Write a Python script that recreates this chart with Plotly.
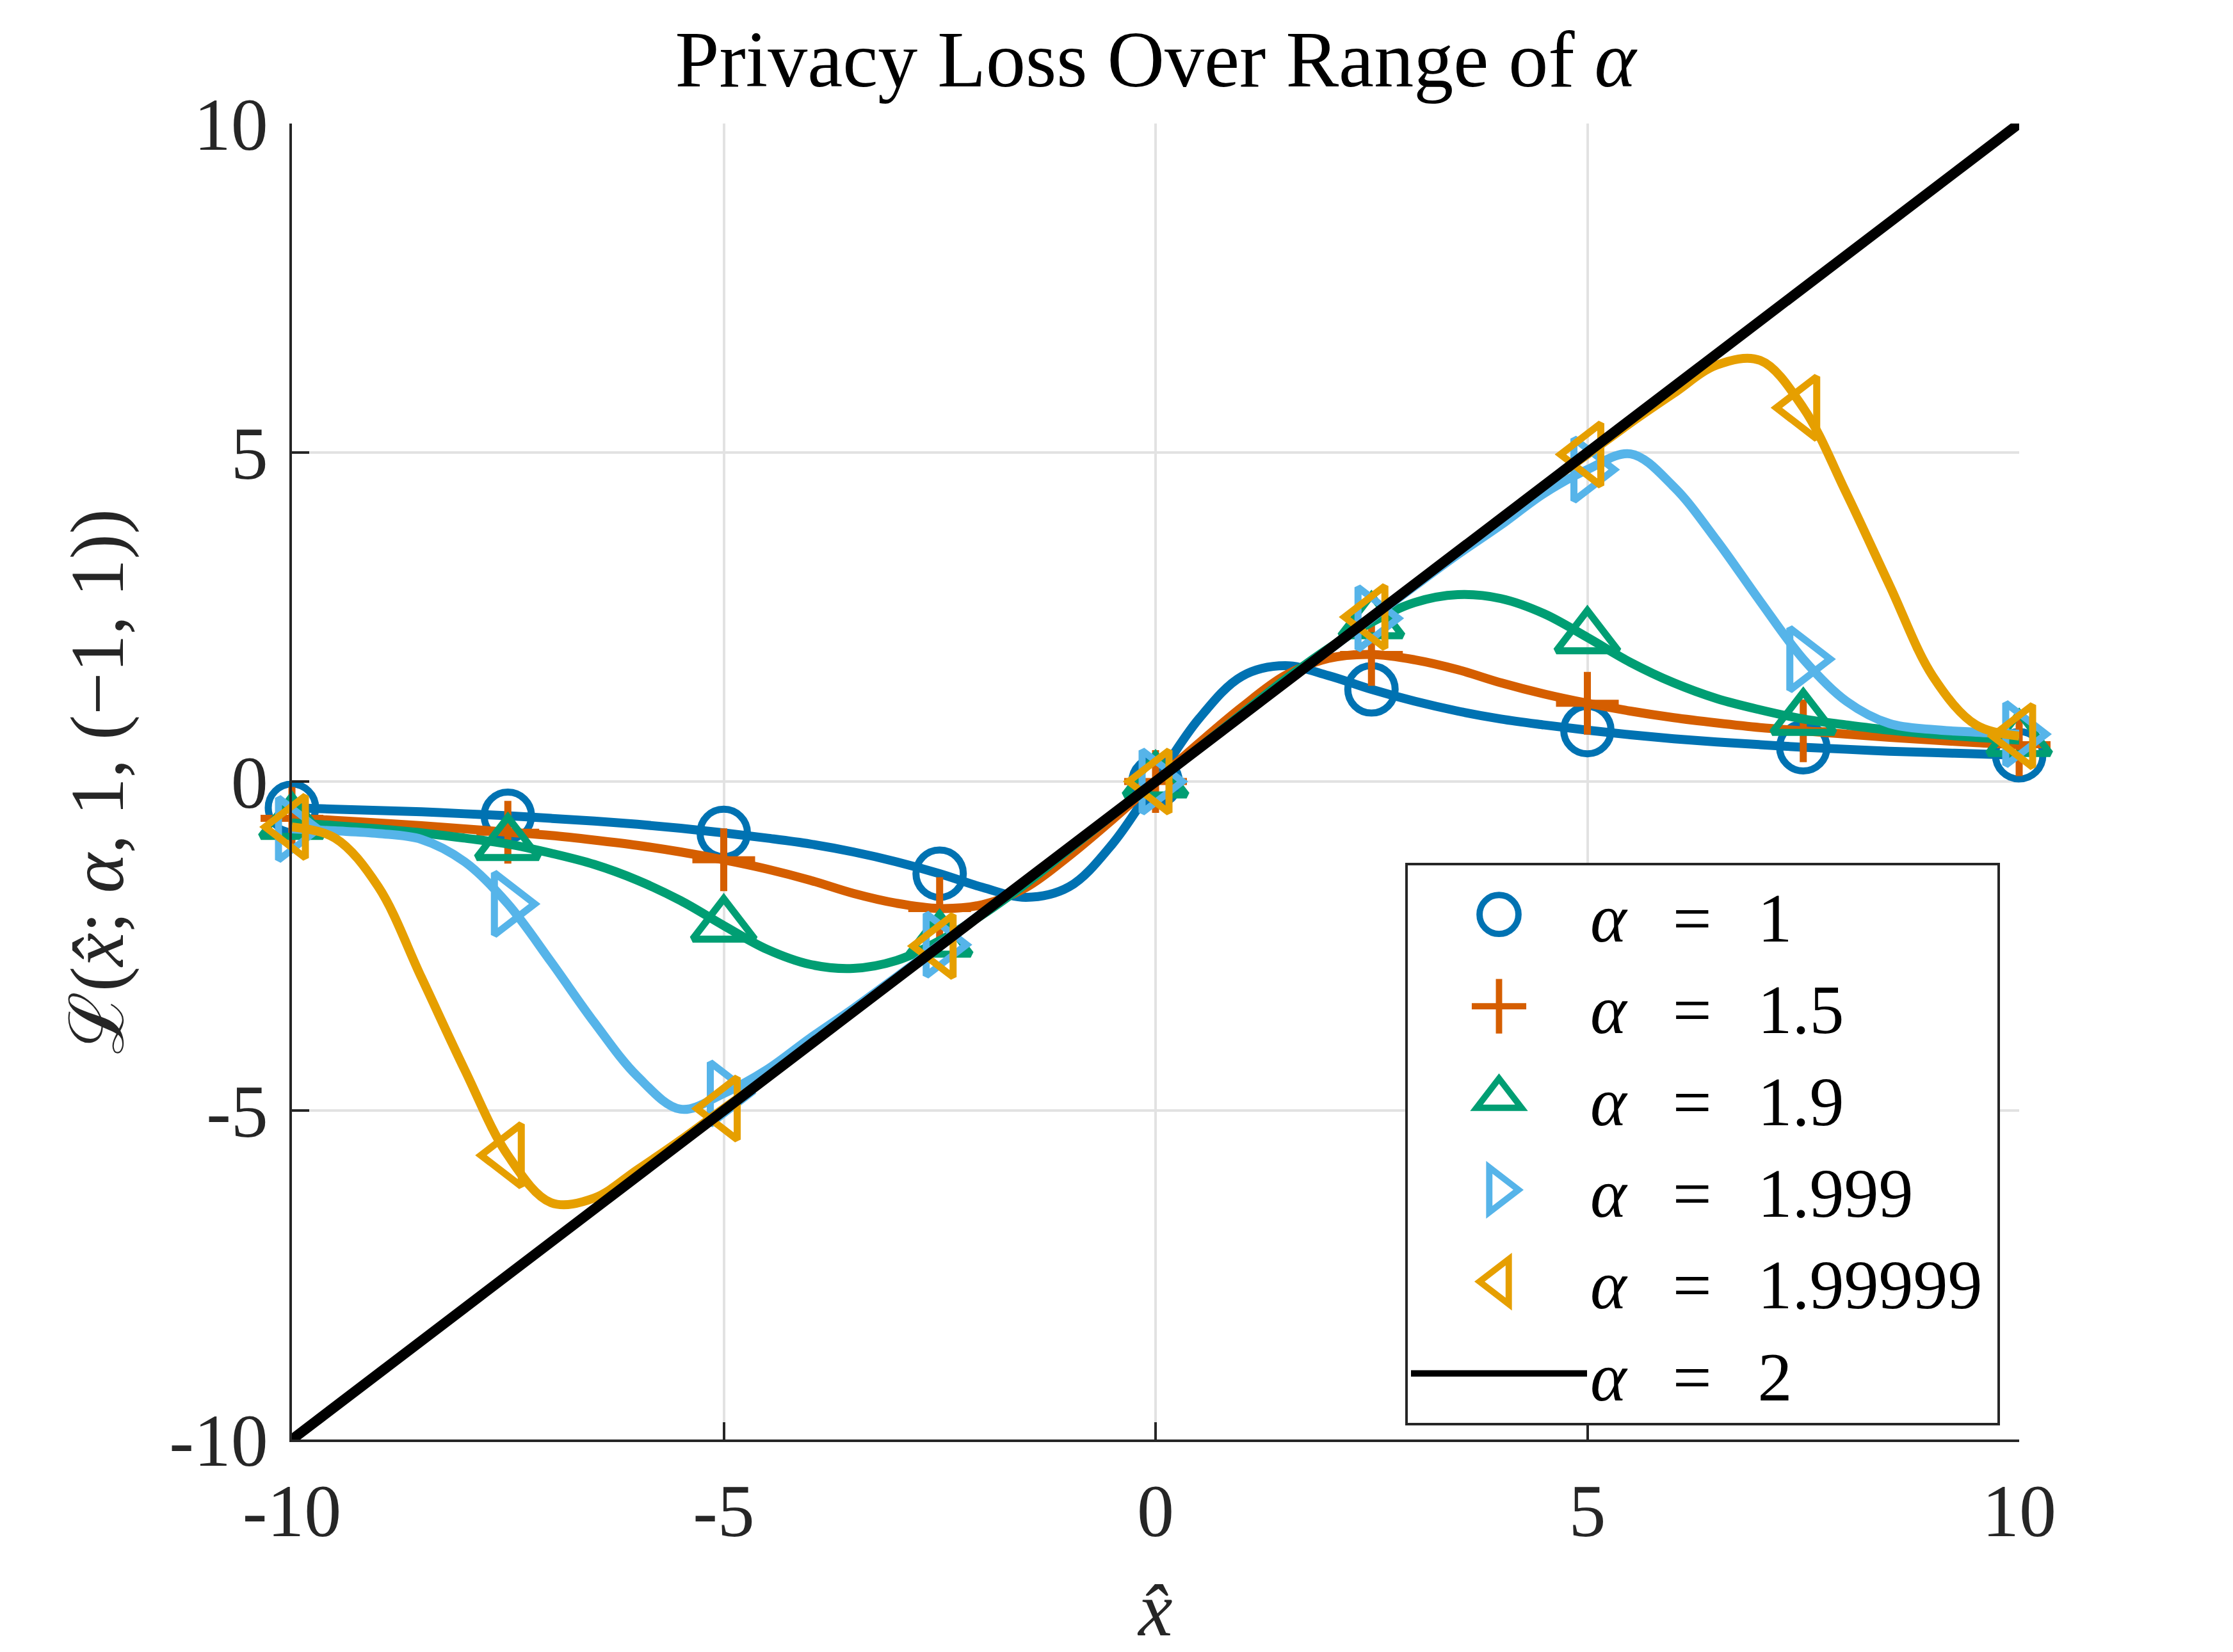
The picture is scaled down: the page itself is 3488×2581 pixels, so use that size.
import plotly.graph_objects as go

# x grid for the smooth curves (read at 0.5 steps)
x_curve = [-10.0, -9.5, -9.0, -8.5, -8.0, -7.5, -7.0, -6.5, -6.0, -5.5, -5.0,
           -4.5, -4.0, -3.5, -3.0, -2.5, -2.0, -1.5, -1.0, -0.5, 0.0,
           0.5, 1.0, 1.5, 2.0, 2.5, 3.0, 3.5, 4.0, 4.5, 5.0,
           5.5, 6.0, 6.5, 7.0, 7.5, 8.0, 8.5, 9.0, 9.5, 10.0]

# alpha = 1
y_a1 = [-0.40, -0.42, -0.44, -0.46, -0.49, -0.52, -0.56, -0.60, -0.65, -0.71, -0.78,
        -0.86, -0.95, -1.07, -1.22, -1.40, -1.61, -1.76, -1.60, -0.95, 0.00,
        0.95, 1.60, 1.76, 1.61, 1.40, 1.22, 1.07, 0.95, 0.86, 0.78,
        0.71, 0.65, 0.60, 0.56, 0.52, 0.49, 0.46, 0.44, 0.42, 0.40]
# alpha = 1.5
y_a15 = [-0.56, -0.59, -0.63, -0.67, -0.72, -0.77, -0.82, -0.89, -0.97, -1.07, -1.19,
         -1.33, -1.50, -1.70, -1.85, -1.93, -1.87, -1.61, -1.13, -0.58, 0.00,
         0.58, 1.13, 1.61, 1.87, 1.93, 1.85, 1.70, 1.50, 1.33, 1.19,
         1.07, 0.97, 0.89, 0.82, 0.77, 0.72, 0.67, 0.63, 0.59, 0.56]
# alpha = 1.9
y_a19 = [-0.63, -0.67, -0.72, -0.78, -0.86, -0.95, -1.09, -1.26, -1.50, -1.81, -2.19,
         -2.55, -2.78, -2.84, -2.72, -2.42, -2.02, -1.55, -1.03, -0.51, 0.00,
         0.51, 1.03, 1.55, 2.02, 2.42, 2.72, 2.84, 2.78, 2.55, 2.19,
         1.81, 1.50, 1.26, 1.09, 0.95, 0.86, 0.78, 0.72, 0.67, 0.63]
# alpha = 1.999
y_a1999 = [-0.72, -0.75, -0.79, -0.88, -1.22, -1.86, -2.74, -3.66, -4.48, -4.98, -4.74,
           -4.38, -3.90, -3.45, -2.97, -2.48, -1.99, -1.50, -1.00, -0.50, 0.00,
           0.50, 1.00, 1.50, 1.99, 2.48, 2.97, 3.45, 3.90, 4.38, 4.74,
           4.98, 4.48, 3.66, 2.74, 1.86, 1.22, 0.88, 0.79, 0.75, 0.72]
# alpha = 1.99999
y_a199999 = [-0.69, -0.86, -1.60, -2.98, -4.38, -5.68, -6.40, -6.33, -5.90, -5.45, -4.97,
             -4.50, -4.00, -3.50, -3.00, -2.50, -2.00, -1.50, -1.00, -0.50, 0.00,
             0.50, 1.00, 1.50, 2.00, 2.50, 3.00, 3.50, 4.00, 4.50, 4.97,
             5.45, 5.90, 6.33, 6.40, 5.68, 4.38, 2.98, 1.60, 0.86, 0.69]
# alpha = 2 (straight line)
x_a2 = [-10.0, 10.0]
y_a2 = [-10.0, 10.0]

marker_step = 5  # markers every 2.5 in x

SP = "\u2002\u2006"
END = "\u2006"
alpha_labels = ["1", "1.5", "1.9", "1.999", "1.99999"]
series_names = ["<i>α</i>" + SP + "=" + SP + a + END for a in alpha_labels]
series_y = [y_a1, y_a15, y_a19, y_a1999, y_a199999]
colors = ["#0072B2", "#D55E00", "#009E73", "#56B4E9", "#E69F00"]
symbols = ["circle-open", "cross-thin-open", "triangle-up-open", "triangle-right-open", "triangle-left-open"]
msizes = [74, 70, 84, 84, 84]

x_ticks = [-10, -5, 0, 5, 10]
x_ticktext = ["-10", "-5", "0", "5", "10"]
y_ticks = [-10, -5, 0, 5, 10]
y_ticktext = ["-10", "-5", "0", "5", "10"]

FONT = "Liberation Serif, DejaVu Serif, serif"
AX = "#262626"

fig = go.Figure()
for name, ys, c, sym, ms in zip(series_names, series_y, colors, symbols, msizes):
    fig.add_trace(go.Scatter(x=x_curve, y=ys, mode="lines", line=dict(color=c, width=14, shape="spline"),
                             showlegend=False, hoverinfo="skip", cliponaxis=False))
    fig.add_trace(go.Scatter(x=x_curve[::marker_step], y=ys[::marker_step], mode="markers", name=name,
                             marker=dict(symbol=sym, size=ms, color=c, line=dict(color=c, width=11)),
                             cliponaxis=False))
fig.add_trace(go.Scatter(x=x_a2, y=y_a2, mode="lines", name="<i>α</i>" + SP + "=" + SP + "2" + END,
                         line=dict(color="black", width=16), cliponaxis=False))

axis_common = dict(
    showline=True, linewidth=4, linecolor=AX, mirror=False,
    ticks="inside", ticklen=27, tickwidth=4, tickcolor=AX,
    showgrid=True, gridcolor="#e2e2e2", gridwidth=4, zeroline=False,
    tickfont=dict(family=FONT, size=116, color=AX),
)

fig.update_layout(
    width=3488, height=2581,
    margin=dict(l=456, r=334, t=193, b=332),
    paper_bgcolor="white", plot_bgcolor="white",
    font=dict(family=FONT, size=112, color=AX),
    title=dict(text="Privacy Loss Over Range of <i>α</i>", x=0.5175, xanchor="center",
               y=1 - 92 / 2581, yanchor="middle", yref="container",
               font=dict(family=FONT, size=124, color="black")),
    xaxis=dict(range=[-10, 10], tickvals=x_ticks, ticktext=x_ticktext,
               ticklabelstandoff=8,
               title=dict(text="<i>x̂</i>", standoff=55, font=dict(family=FONT, size=120, color=AX)),
               **axis_common),
    yaxis=dict(range=[-10, 10], tickvals=y_ticks, ticktext=y_ticktext,
               ticklabelstandoff=10,
               title=dict(text="ℒ(<i>x̂</i>; <i>α</i>, 1, (−1, 1))", standoff=33,
                          font=dict(family=FONT, size=118, color=AX)),
               **axis_common),
    legend=dict(x=(2195 - 456) / 2698, y=(2249 - 1348) / 2056, xanchor="left", yanchor="top",
                bgcolor="white", bordercolor=AX, borderwidth=4,
                font=dict(family=FONT, size=108, color="black"),
                itemwidth=275, tracegroupgap=0),
)

post = """
var gd = document.getElementById('{plot_id}');
function fixLegend(){
  gd.querySelectorAll('.legend .legendpoints path.scatterpts').forEach(function(p){
    var t = p.getAttribute('transform') || '';
    if (t.indexOf('scale') < 0) { p.setAttribute('transform', t + ' scale(3.8)'); }
    p.style.strokeWidth = '2.6px';
  });
}
fixLegend();
gd.on && gd.on('plotly_afterplot', fixLegend);
"""

fig.write_html("out.html", post_script=post)
